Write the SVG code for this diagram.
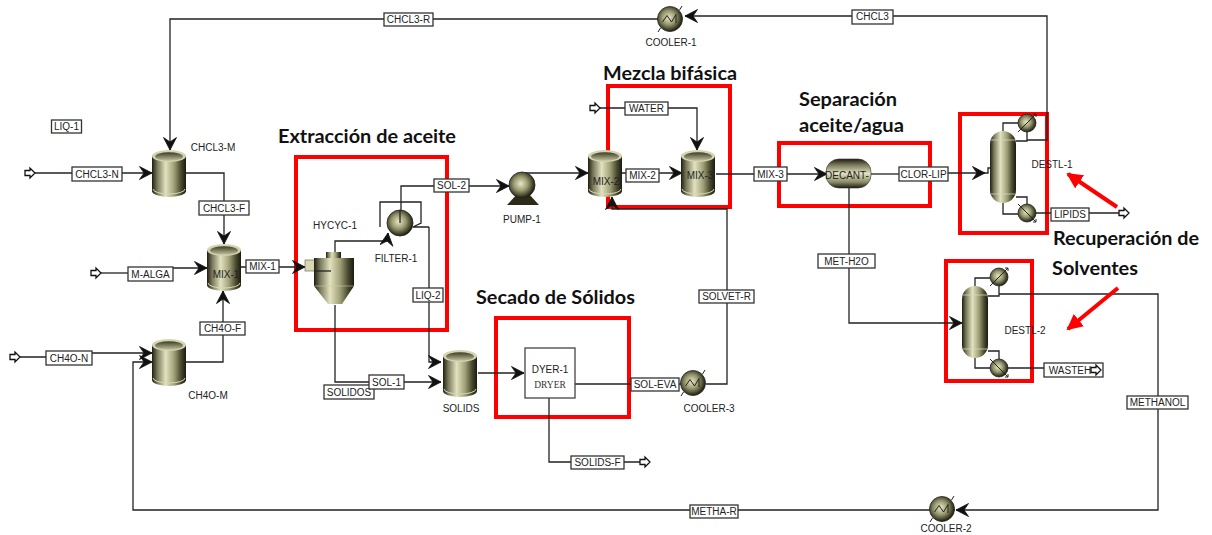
<svg xmlns="http://www.w3.org/2000/svg" width="1212" height="535" viewBox="0 0 1212 535">
<style>
.bg{fill:#fff}
.c{fill:none;stroke:#222;stroke-width:1.3}
.a{marker-end:url(#ah)}
.lb{fill:#fff;stroke:#333;stroke-width:1.3}
.t{font-family:"Liberation Sans",Arial,sans-serif;font-size:10px;fill:#222;text-anchor:middle}
.s{font-family:"Liberation Serif","Times New Roman",serif;font-size:9.5px;fill:#333;text-anchor:middle}
.h{font-family:Lato,"Open Sans",sans-serif;font-weight:700;font-size:18px;fill:#111}
.r{fill:none;stroke:#f00;stroke-width:4}
.ra{fill:none;stroke:#f00;stroke-width:4;marker-end:url(#rh)}
.feed{fill:#fff;stroke:#111;stroke-width:1.3}
.hx{fill:url(#gR);stroke:#222;stroke-width:.8}
.w{fill:none;stroke:#222;stroke-width:1}
</style>
<defs>
<linearGradient id="gV" x1="0" y1="0" x2="1" y2="0">
<stop offset="0" stop-color="#1e1e10"/><stop offset=".15" stop-color="#77775a"/><stop offset=".4" stop-color="#e2e2c0"/><stop offset=".65" stop-color="#a0a078"/><stop offset=".85" stop-color="#4a4a30"/><stop offset="1" stop-color="#1a1a10"/>
</linearGradient>
<linearGradient id="gH" x1="0" y1="0" x2="0" y2="1">
<stop offset="0" stop-color="#1e1e10"/><stop offset=".2" stop-color="#77775a"/><stop offset=".5" stop-color="#e2e2c0"/><stop offset=".8" stop-color="#8a8a66"/><stop offset="1" stop-color="#1a1a10"/>
</linearGradient>
<linearGradient id="gT" x1="0" y1="0" x2="0" y2="1">
<stop offset="0" stop-color="#3c3c24"/><stop offset="1" stop-color="#c4c4a0"/>
</linearGradient>
<radialGradient id="gR" cx=".45" cy=".45" r=".55">
<stop offset="0" stop-color="#e8e8c8"/><stop offset=".5" stop-color="#98986e"/><stop offset="1" stop-color="#1e1e10"/>
</radialGradient>
<marker id="ah" markerUnits="userSpaceOnUse" markerWidth="15" markerHeight="15" refX="13" refY="7" orient="auto">
<path d="M13 7L.5 .5L5 7L.5 13.500Z" fill="#111" stroke="#111" stroke-width=".8"/>
</marker>
<marker id="rh" markerUnits="userSpaceOnUse" markerWidth="18" markerHeight="18" refX="14" refY="8" orient="auto">
<path d="M16 8L0 0V16Z" fill="#f00"/>
</marker>
<g id="vessel">
<path d="M0 6V41A17 6 0 0 0 34 41V6Z" fill="url(#gV)"/>
<path d="M1 39A16 5 0 0 0 33 39" fill="none" stroke="#d8d8b8" stroke-width="1"/>
<ellipse cx="17" cy="6" rx="17" ry="6" fill="#d4d4b2"/>
<ellipse cx="17" cy="6.500" rx="14" ry="4.300" fill="url(#gT)"/>
</g>
<g id="column">
<rect width="26" height="72" rx="13" ry="13" fill="url(#gV)"/>
<path d="M1 9H25M1 63H25" stroke="#d8d8b8" stroke-width=".8"/>
</g>
<g id="cooler">
<circle r="12.5" class="hx"/>
<path d="M-7.500 3L-3 -3.500L1.500 3L6 -4.500V4" fill="none" stroke="#222" stroke-width="1"/>
<path d="M-12 13L-9.500 9M9.500 -9L12 -13" stroke="#222" stroke-width="1" fill="none"/>
</g>
<g id="cond">
<circle r="9" class="hx"/>
<path d="M-9 9L9 -9M9 -9H6M9 -9V-6" class="w"/>
</g>
<g id="reb">
<circle r="9" class="hx"/>
<path d="M-9 -9L9 9M9 9H6M9 9V6" class="w"/>
</g>
<path id="fa" class="feed" d="M0 -2.500H5V-5L10 0L5 5V2.500H0Z"/>
</defs>
<rect class="bg" width="1212" height="535"/>

<g id="regions">
<rect class="r" x="296" y="157" width="151" height="173"/>
<rect class="r" x="496" y="318" width="133" height="99"/>
<rect class="r" x="608" y="86" width="122" height="121"/>
<rect class="r" x="779" y="143" width="151" height="63"/>
<rect class="r" x="960" y="114" width="87" height="119"/>
<rect class="r" x="946" y="261" width="86" height="120"/>
</g>

<g id="connectors">
<path class="c a" d="M35 173H152"/>
<path class="c" d="M101 273H128"/>
<path class="c a" d="M173 268H207"/>
<path class="c a" d="M20 357H46M92 353H152"/>
<path class="c a" d="M955 510H133V362H152"/>
<path class="c a" d="M186 362H223V291"/>
<path class="c a" d="M186 173H224V244"/>
<path class="c a" d="M241 267H305"/>
<path class="c a" d="M335 252V241H387L388 233"/>
<path class="c" d="M380 227V202H421V223L413 227H429"/>
<path class="c a" d="M429 227V362H441"/>
<path class="c a" d="M401 223V186H509"/>
<path class="c a" d="M525 173H588"/>
<path class="c a" d="M622 173H682"/>
<path class="c a" d="M599 108H697V150"/>
<path class="c a" d="M716 174H827"/>
<path class="c" d="M871 174H899"/>
<path class="c a" d="M948 173H985"/>
<path class="c" d="M985 173H988V168H990"/>
<path class="c" d="M1003 131V123H1018M1027 132V141H1016"/>
<path class="c a" d="M1027 140H1047V16H685"/>
<path class="c a" d="M658 19H170V150"/>
<path class="c" d="M1003 203V214H1018M1016 197H1027V205"/>
<path class="c" d="M1036 213H1119"/>
<path class="c a" d="M849 188V323H962"/>
<path class="c" d="M975 286V278H990M988 296H999V286"/>
<path class="c a" d="M999 294H1158V510H956"/>
<path class="c" d="M975 358V368H990M988 351H999V359"/>
<path class="c" d="M1008 368H1090"/>
<path class="c a" d="M335 305V382H441"/>
<path class="c a" d="M478 373H524"/>
<path class="c" d="M575 384H681"/>
<path class="c a" d="M706 384H727V209H612V197"/>
<path class="c" d="M549 398V462H640"/>
</g>

<g id="FEED-CHCL3-N"><use href="#fa" x="25" y="173"/></g>
<g id="FEED-M-ALGA"><use href="#fa" x="91" y="273"/></g>
<g id="FEED-CH4O-N"><use href="#fa" x="10" y="357"/></g>
<g id="FEED-WATER"><use href="#fa" x="590" y="108"/></g>
<g id="OUT-LIPIDS"><use href="#fa" x="1119" y="213"/></g>
<g id="OUT-SOLIDS-F"><use href="#fa" x="640" y="462"/></g>

<g id="CHCL3-M"><use href="#vessel" x="152" y="150"/><text class="t" x="213" y="151">CHCL3-M</text></g>
<g id="MIX-1"><use href="#vessel" x="207" y="244"/><text class="t" x="226" y="278">MIX-1</text></g>
<g id="CH4O-M"><use href="#vessel" x="152" y="339"/><text class="t" x="208" y="399">CH4O-M</text></g>

<g id="HYCYC-1">
<rect x="326" y="252" width="15" height="7" fill="url(#gV)"/>
<rect x="305" y="260" width="10" height="11" fill="#d8d8b0" stroke="#555" stroke-width=".6"/>
<path d="M314 258H354V286L342 304H328L314 286Z" fill="url(#gV)"/>
<path d="M314 286H354" stroke="#cfcfa8" stroke-width=".6"/>
<path class="c" d="M314 271H331"/>
<text class="t" x="335" y="229">HYCYC-1</text>
</g>
<g id="FILTER-1">
<circle cx="400" cy="223" r="13" class="hx"/>
<path class="c" d="M400 210V223"/>
<text class="t" x="396" y="262">FILTER-1</text>
</g>
<g id="PUMP-1">
<path d="M507 205L518 193H528L539 205Z" fill="#2b2b18"/>
<circle cx="522" cy="185" r="13" class="hx"/>
<text class="t" x="522" y="223">PUMP-1</text>
</g>
<g id="MIX-2"><use href="#vessel" x="588" y="150"/><text class="t" x="606" y="185">MIX-2</text></g>
<g id="MIX-3"><use href="#vessel" x="681" y="150"/><text class="t" x="700" y="179">MIX-3</text></g>
<g id="DECANT">
<rect x="826" y="159" width="45" height="29" rx="13" ry="13" fill="url(#gH)" stroke="#333" stroke-width=".6"/>
<text class="t" x="847" y="179">DECANT-</text>
</g>
<g id="DESTL-1">
<use href="#column" x="990" y="131"/>
<use href="#cond" x="1027" y="123"/>
<use href="#reb" x="1027" y="213"/>
<text class="t" x="1052" y="168">DESTL-1</text>
</g>
<g id="DESTL-2">
<use href="#column" x="962" y="286"/>
<use href="#cond" x="999" y="277"/>
<use href="#reb" x="999" y="368"/>
<text class="t" x="1025" y="334">DESTL-2</text>
</g>
<g id="SOLIDS"><use href="#vessel" x="443" y="350"/><text class="t" x="461" y="412">SOLIDS</text></g>
<g id="DYER-1">
<rect x="525" y="348" width="50" height="50" fill="#fff" stroke="#444" stroke-width="1.300"/>
<text class="t" x="550" y="373">DYER-1</text>
<text class="s" x="550" y="388">DRYER</text>
</g>
<g id="COOLER-1"><use href="#cooler" x="670" y="19"/><text class="t" x="671" y="46">COOLER-1</text></g>
<g id="COOLER-2"><use href="#cooler" x="942" y="509"/><text class="t" x="946" y="532">COOLER-2</text></g>
<g id="COOLER-3"><use href="#cooler" x="693" y="383"/><text class="t" x="709" y="412">COOLER-3</text></g>

<g id="stream-labels">
<rect class="lb" x="51.500" y="120" width="30" height="13"/><text class="t" x="66.500" y="130">LIQ-1</text>
<rect class="lb" x="72" y="167" width="50" height="14"/><text class="t" x="97" y="177.500">CHCL3-N</text>
<rect class="lb" x="128" y="267" width="45" height="14"/><text class="t" x="150.500" y="277.500">M-ALGA</text>
<rect class="lb" x="46" y="351" width="46" height="14"/><text class="t" x="69" y="361.500">CH4O-N</text>
<rect class="lb" x="199" y="201" width="50" height="14"/><text class="t" x="224" y="211.500">CHCL3-F</text>
<rect class="lb" x="200" y="322" width="45" height="13"/><text class="t" x="222.500" y="332">CH4O-F</text>
<rect class="lb" x="246" y="260" width="33" height="13"/><text class="t" x="262.500" y="270">MIX-1</text>
<rect class="lb" x="384" y="13" width="49" height="13"/><text class="t" x="408.500" y="23">CHCL3-R</text>
<rect class="lb" x="852" y="10" width="41" height="14"/><text class="t" x="872.500" y="20">CHCL3</text>
<rect class="lb" x="434" y="179" width="35" height="13"/><text class="t" x="451.500" y="189">SOL-2</text>
<rect class="lb" x="413" y="288" width="30" height="14"/><text class="t" x="428" y="298.500">LIQ-2</text>
<rect class="lb" x="324" y="385" width="50" height="14"/><text class="t" x="349" y="395.500">SOLIDOS</text>
<rect class="lb" x="369" y="375" width="35" height="14"/><text class="t" x="386.500" y="385.500">SOL-1</text>
<rect class="lb" x="625" y="102" width="43" height="13"/><text class="t" x="646.500" y="112">WATER</text>
<rect class="lb" x="626" y="169" width="33" height="13"/><text class="t" x="642.500" y="178.500">MIX-2</text>
<rect class="lb" x="754" y="167" width="33" height="14"/><text class="t" x="770.500" y="177.500">MIX-3</text>
<rect class="lb" x="899" y="167" width="49" height="14"/><text class="t" x="923.500" y="177.500">CLOR-LIP</text>
<rect class="lb" x="1051" y="208" width="38" height="13"/><text class="t" x="1070" y="218">LIPIDS</text>
<rect class="lb" x="818" y="254" width="57" height="14"/><text class="t" x="846.500" y="264.500">MET-H2O</text>
<rect class="lb" x="699" y="290" width="55" height="13"/><text class="t" x="726.500" y="300">SOLVET-R</text>
<rect class="lb" x="631" y="378" width="48" height="13"/><text class="t" x="655" y="388">SOL-EVA</text>
<rect class="lb" x="571" y="456" width="53" height="13"/><text class="t" x="597.500" y="466">SOLIDS-F</text>
<rect class="lb" x="1044" y="363" width="59" height="14"/><text class="t" x="1070" y="373.500">WASTEH</text>
<rect class="lb" x="1127" y="396" width="61" height="13"/><text class="t" x="1157.500" y="406">METHANOL</text>
<rect class="lb" x="690" y="505" width="48" height="13"/><text class="t" x="714" y="515">METHA-R</text>
<use href="#fa" x="1091" y="370"/>
</g>

<g id="annotations">
<text class="h" x="278" y="143" textLength="178" lengthAdjust="spacingAndGlyphs">Extracción de aceite</text>
<text class="h" x="603" y="80" textLength="134" lengthAdjust="spacingAndGlyphs">Mezcla bifásica</text>
<text class="h" x="799" y="106" textLength="98" lengthAdjust="spacingAndGlyphs">Separación</text>
<text class="h" x="799" y="132" textLength="105" lengthAdjust="spacingAndGlyphs">aceite/agua</text>
<text class="h" x="476" y="304" textLength="159" lengthAdjust="spacingAndGlyphs">Secado de Sólidos</text>
<text class="h" x="1053" y="245" textLength="146" lengthAdjust="spacingAndGlyphs">Recuperación de</text>
<text class="h" x="1052" y="275" textLength="86" lengthAdjust="spacingAndGlyphs">Solventes</text>
<path class="ra" d="M1117 207L1068 174"/>
<path class="ra" d="M1118 288L1068 329"/>
</g>
</svg>
